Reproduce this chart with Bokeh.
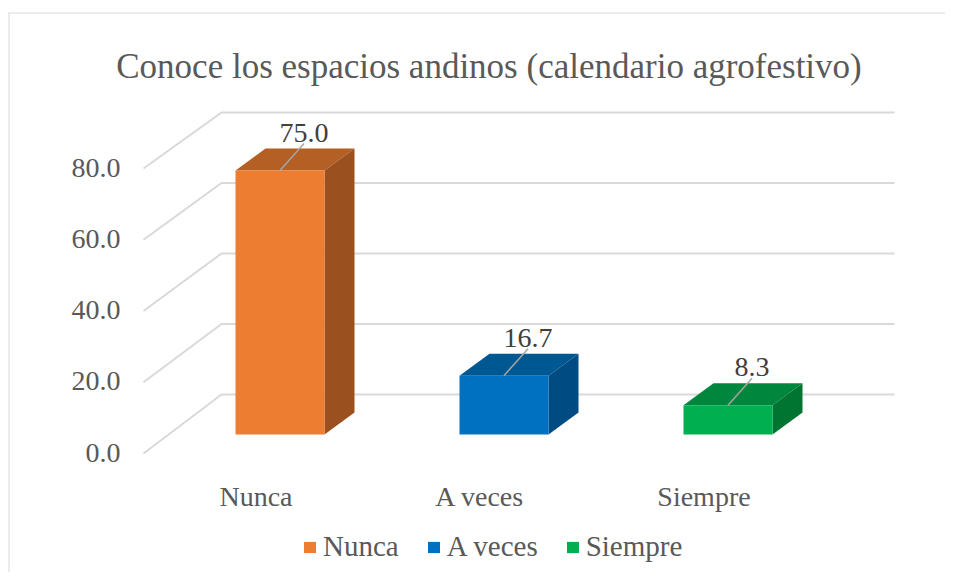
from bokeh.plotting import figure
from bokeh.models import Range1d, Legend, LegendItem, Label, ColumnDataSource, Span
from bokeh.embed import file_html
from bokeh.resources import INLINE
from bokeh.core.properties import value

# ---- data ----
categories = ["Nunca", "A veces", "Siempre"]
values = [75.0, 16.7, 8.3]
value_labels = ["75.0", "16.7", "8.3"]
y_ticks = [0, 20, 40, 60, 80]
y_tick_labels = ["0.0", "20.0", "40.0", "60.0", "80.0"]
title_text = "Conoce los espacios andinos (calendario agrofestivo)"

front_colors = ["#ED7D31", "#0070C0", "#00B050"]
top_colors = ["#B45F23", "#005893", "#00863D"]
side_colors = ["#9A501F", "#004B82", "#007532"]

# ---- layout constants (pixels) ----
W, H = 937, 560
PX_X = 224.0     # pixels per category step
PX_Y = 3.52      # pixels per value unit
X0 = 271.5       # pixel x of first category centre
Y0 = 422.0       # pixel y (from top) of value 0 on the bar plane
FONT = value("Liberation Serif")


def dxp(p):
    return p / PX_X


def dyp(p):
    return p / PX_Y


p = figure(width=W, height=H, output_backend="svg", toolbar_location=None,
           x_range=Range1d(-X0 / PX_X, (W - X0) / PX_X),
           y_range=Range1d((Y0 - H) / PX_Y, Y0 / PX_Y),
           min_border=0, outline_line_color=None)
p.margin = (12, 0, 0, 8)
p.xaxis.visible = False
p.yaxis.visible = False
p.xgrid.visible = False
p.ygrid.visible = False
p.background_fill_color = "white"

# border (left & top)
p.add_layout(Span(location=p.x_range.start, dimension="height",
                  line_color="#D9D9D9", line_width=2))
p.add_layout(Span(location=p.y_range.end, dimension="width",
                  line_color="#D9D9D9", line_width=2))

# ---- gridlines: floor diagonals + back wall ----
fx = dxp(135 - X0)
bx = dxp(213 - X0)
ex = dxp(886 - X0)
grid_xs, grid_ys = [], []
front_y = []
for g in y_ticks:
    fy = dyp(Y0 - (441 - 3.5625 * g))
    by = dyp(Y0 - (382 - 3.525 * g))
    front_y.append(fy)
    grid_xs.append([fx, bx, ex])
    grid_ys.append([fy, by, by])
p.multi_line(grid_xs, grid_ys, line_color="#D9D9D9", line_width=2)

# y tick labels
p.text(x=[dxp(112 - X0)] * len(y_ticks), y=[y + dyp(1) for y in front_y], text=y_tick_labels,
       text_font=FONT, text_font_size="28px", text_color="#595959",
       text_align="right", text_baseline="middle")

# ---- 3D bars ----
hw = dxp(44.5)
ddx = dxp(30)
ddy = dyp(22)
idx = list(range(len(categories)))

top_xs, top_ys, side_xs, side_ys = [], [], [], []
for i, v in zip(idx, values):
    top_xs.append([i - hw, i + hw, i + hw + ddx, i - hw + ddx])
    top_ys.append([v, v, v + ddy, v + ddy])
    side_xs.append([i + hw, i + hw + ddx, i + hw + ddx, i + hw])
    side_ys.append([0, ddy, v + ddy, v])

p.patches(top_xs, top_ys, fill_color=top_colors, line_color=None)
p.patches(side_xs, side_ys, fill_color=side_colors, line_color=None)
src = ColumnDataSource(dict(left=[i - hw for i in idx], right=[i + hw for i in idx],
                            top=values, bottom=[0] * len(values), color=front_colors))
front_r = p.quad(left="left", right="right", top="top", bottom="bottom",
                 fill_color="color", line_color=None, source=src)

# leader lines and data labels
lx = dxp(24)
p.segment(x0=idx, y0=values, x1=[i + lx for i in idx], y1=[v + dyp(27) for v in values],
          line_color="#A6A6A6", line_width=1.5)
p.text(x=[i + lx for i in idx], y=[v + dyp(38) for v in values], text=value_labels,
       text_font=FONT, text_font_size="28px", text_color="#404040",
       text_align="center", text_baseline="alphabetic")

# category labels
p.text(x=[i - dxp(24) for i in idx], y=[dyp(Y0 - 484)] * len(idx), text=categories,
       text_font=FONT, text_font_size="28px", text_color="#595959",
       text_align="center", text_baseline="alphabetic")

# title
p.add_layout(Label(x=dxp(480.5 - X0), y=dyp(Y0 - 54), text=title_text,
                   text_font="Liberation Serif", text_font_size="35px",
                   text_color="#595959", text_align="center",
                   text_baseline="alphabetic"))

# legend
legend = Legend(items=[LegendItem(label=c, renderers=[front_r], index=i)
                       for i, c in enumerate(categories)],
                orientation="horizontal", location=(294, 9),
                padding=0, margin=0, spacing=27,
                glyph_width=15, glyph_height=14, label_standoff=6,
                label_text_font="Liberation Serif", label_text_font_size="29px",
                label_text_color="#595959",
                border_line_color=None, background_fill_alpha=0)
p.add_layout(legend)

open("out.html", "w").write(file_html(p, INLINE))
